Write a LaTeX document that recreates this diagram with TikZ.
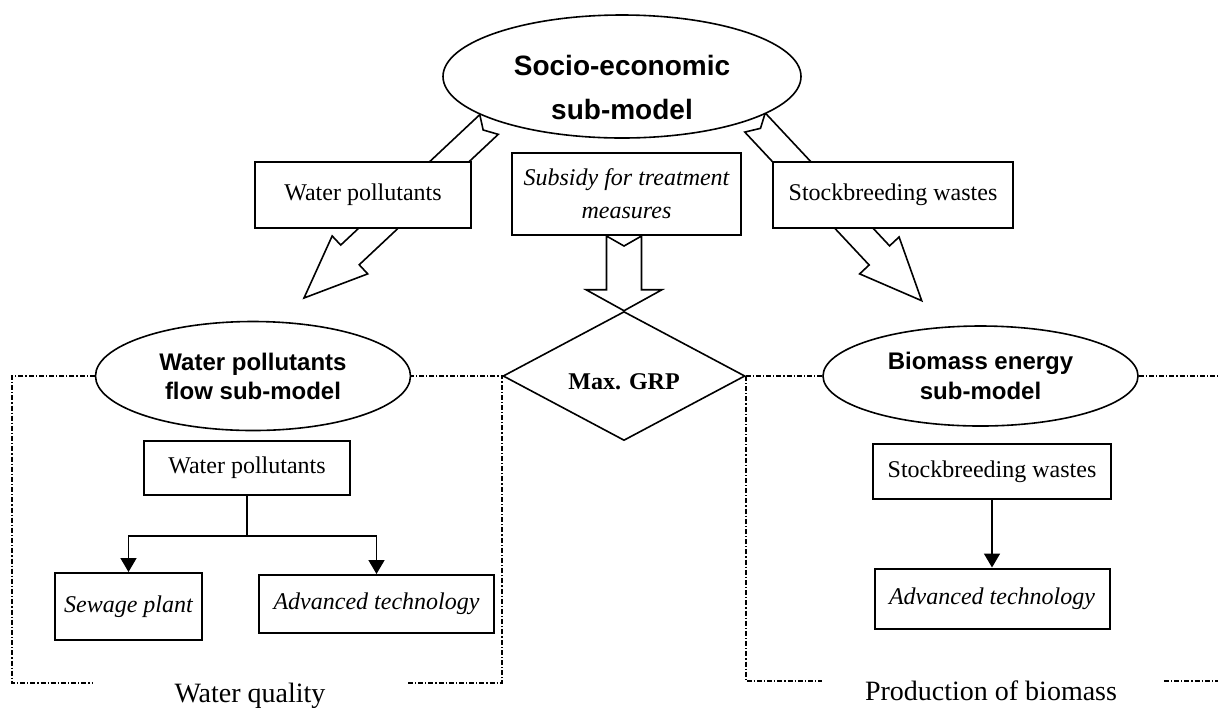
\documentclass[tikz,border=0pt]{standalone}
\usepackage{fontspec}
\setmainfont{Liberation Serif}
\newfontfamily\arialfont{Liberation Sans}
\usetikzlibrary{shapes.geometric,arrows.meta,calc,backgrounds}

\begin{document}
\begin{tikzpicture}
	[x=0.5pt,y=-0.5pt,
	box/.style={draw, line width=1pt, fill=white, inner sep=0pt, align=center, font=\fontsize{12}{16.5}\selectfont},
	itbox/.style={box, font=\fontsize{12}{16.5}\selectfont\itshape},
	model/.style={ellipse, draw, line width=0.8pt, fill=white, inner sep=0pt, align=center},
	blockarrow/.style={draw, line width=0.8pt, fill=white, line join=miter},
	dashframe/.style={line width=1pt, dash pattern=on 2.5pt off 1pt on 0.6pt off 1pt},
	arr/.style={-{Triangle[width=8pt,length=7pt]}, line width=0.8pt}]
	\useasboundingbox (0,0) rectangle (1218,708);
	
	\node[model, minimum width=179pt, minimum height=61.5pt, font=\arialfont\bfseries\fontsize{14}{16.8}\selectfont] (socio) at (622,76.5) {\rule{0pt}{21pt}Socio-economic\\[5.2pt]sub-model};
	\node[box, minimum width=108pt, minimum height=33pt] (wp) at (363,195) {Water pollutants};
	\node[itbox, minimum width=114.5pt, minimum height=41pt] (subsidy) at (626.5,194) {Subsidy for treatment\\measures};
	\node[box, minimum width=120pt, minimum height=33pt] (sw) at (893,195) {Stockbreeding wastes};
	
	\node[diamond, draw, line width=0.8pt, fill=white, shape aspect=2, minimum width=121pt, minimum height=64.5pt, inner sep=0pt, text height=13.5pt, text depth=0pt, font=\bfseries\fontsize{12}{14}\selectfont] (grp) at (624,376) {Max. GRP};
	\node[model, minimum width=157.5pt, minimum height=54.5pt, font=\arialfont\bfseries\fontsize{12}{14.5}\selectfont] (wpflow) at (253,376) {Water pollutants\\flow sub-model};
	\node[model, minimum width=157.5pt, minimum height=50pt, font=\arialfont\bfseries\fontsize{12}{15}\selectfont] (bio) at (980.5,376) {Biomass energy\\sub-model};
	
	% water quality part
	\node[box, minimum width=103pt, minimum height=27pt] (wp2) at (247,468) {Water pollutants};
	\node[itbox, minimum width=73.5pt, minimum height=33.5pt] (sewage) at (128.5,606.5) {Sewage plant};
	\node[itbox, minimum width=117.5pt, minimum height=29pt] (adv1) at (376.5,604) {Advanced technology};
	\coordinate (fork) at (247,536);
	\draw[line width=0.8pt] (wp2.south) -- (fork);
	\draw[arr] (fork) -| (sewage.north);
	\draw[arr] (fork) -| (adv1.north);
	
	% biomass part
	\node[box, minimum width=119pt, minimum height=27.5pt] (sw2) at (992,471.5) {Stockbreeding wastes};
	\node[itbox, minimum width=117.5pt, minimum height=30pt] (adv2) at (992,598.5) {Advanced technology};
	\draw[arr] (sw2.south) -- (adv2.north);
	
	\node[anchor=base, font=\fontsize{14}{17}\selectfont] (wq) at (250,702) {Water quality};
	\node[anchor=base, font=\fontsize{14}{17}\selectfont] (pb) at (991,700) {Production of biomass};
	
	\draw[dashframe] (wpflow.west) -| (12,683) -- (92,683);
	\draw[dashframe] (408,683) -| (grp.west) -- (wpflow.east);
	\draw[dashframe] (grp.east) -- (bio.west);
	\draw[dashframe] (bio.east) -- (1218,376);
	\draw[dashframe] (grp.east) |- (822,681);
	\draw[dashframe] (1164,681) -- (1218,681);
	
	% hollow arrows
	\coordinate (wtail) at (489,124.5);
	\coordinate (wtip) at (304,298);
	\coordinate (stail) at (755,122.5);
	\coordinate (stip) at (921.7,300.7);
	\coordinate (mtail) at (grp.north |- subsidy.south);
	\begin{pgfonlayer}{background}
	\foreach \from/\to/\w/\h/\l/\n in {wtail/wtip/6.75pt/13pt/31.5pt/4pt,stail/stip/7pt/13.5pt/31pt/4pt,mtail/grp.north/8.75pt/19pt/10.5pt/5pt}
	{
		\coordinate (base) at ($(\to)!\l!(\from)$);
		\draw[blockarrow] ($(\from)!\w!90:(\to)$) -- ($(\from)!\n!(\to)$) -- ($(\from)!\w!-90:(\to)$) -- ($(base)!\w!-90:(\to)$) -- ($(base)!\h!-90:(\to)$) -- (\to) -- ($(base)!\h!90:(\to)$) -- ($(base)!\w!90:(\to)$) -- cycle;
	}
	\end{pgfonlayer}
\end{tikzpicture}
\end{document}
